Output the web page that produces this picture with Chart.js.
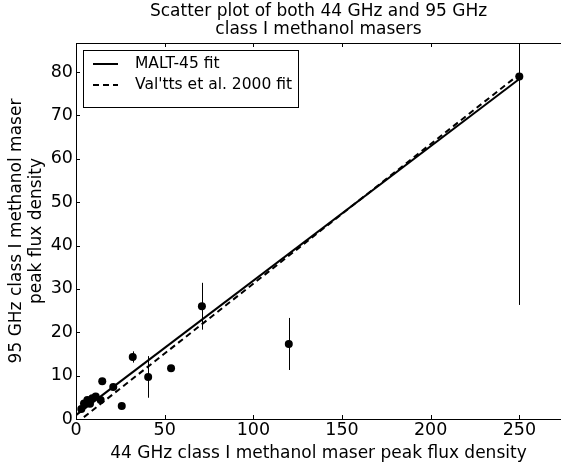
<!DOCTYPE html>
<html>
<head>
<meta charset="utf-8">
<script src="https://cdn.jsdelivr.net/npm/chart.js@4/dist/chart.umd.min.js"></script>
<style>
  html, body { margin: 0; padding: 0; background: #fff; }
  #wrap { width: 561px; height: 468px; }
</style>
</head>
<body>
<div id="wrap"><canvas id="c" width="561" height="468"></canvas></div>
<script>
// ---- data ----
const flux44 = [3.0, 4.5, 6.4, 7.9, 9.2, 11.1, 13.9, 14.8, 21.0, 25.8, 32.0, 40.7, 53.6, 71.0, 120.0, 250.0];
const flux95 = [2.3, 3.6, 4.4, 3.5, 4.8, 5.2, 4.4, 8.7, 7.4, 3.0, 14.3, 9.7, 11.7, 26.0, 17.3, 79.0];
const err95  = [0, 0, 0, 0, 0, 0, 0, 0, 0, 0, 1.3, 4.8, 0, 5.4, 6.0, 52.7];
const maltFitX = [0, 250];
const maltFitY = [0.9, 78.4];
const valttsFitX = [0, 250];
const valttsFitY = [-1.0, 79.5];
const xTicks = [0, 50, 100, 150, 200, 250];
const yTicks = [0, 10, 20, 30, 40, 50, 60, 70, 80];
const seriesLabels = ["MALT-45 fit", "Val'tts et al. 2000 fit"];

const FONT = "'DejaVu Sans', sans-serif";

const pts = flux44.map((x, i) => ({x: x, y: flux95[i]}));
const malt = maltFitX.map((x, i) => ({x: x, y: maltFitY[i]}));
const valtts = valttsFitX.map((x, i) => ({x: x, y: valttsFitY[i]}));

const framePlugin = {
  id: 'frame',
  beforeDatasetsDraw(chart) {
    const {ctx, chartArea: a, scales: {x, y}} = chart;
    ctx.save();
    ctx.beginPath();
    ctx.rect(a.left, a.top, a.right - a.left, a.bottom - a.top);
    ctx.clip();
    ctx.strokeStyle = '#000';
    ctx.lineWidth = 1;
    flux44.forEach((xv, i) => {
      if (!err95[i]) return;
      const px = Math.round(x.getPixelForValue(xv)) + 0.5;
      ctx.beginPath();
      ctx.moveTo(px, y.getPixelForValue(flux95[i] - err95[i]));
      ctx.lineTo(px, y.getPixelForValue(flux95[i] + err95[i]));
      ctx.stroke();
    });
    ctx.restore();
  },
  afterDraw(chart) {
    const {ctx, chartArea: a, scales: {x, y}} = chart;
    ctx.save();
    ctx.strokeStyle = '#000';
    ctx.lineWidth = 1;
    ctx.beginPath();
    ctx.moveTo(a.left + 0.5, a.bottom + 0.5);
    ctx.lineTo(a.left + 0.5, a.top + 0.5);
    ctx.lineTo(a.right, a.top + 0.5);
    ctx.moveTo(a.left + 0.5, a.bottom + 0.5);
    ctx.lineTo(a.right, a.bottom + 0.5);
    ctx.stroke();
    const tl = 4;
    ctx.beginPath();
    xTicks.forEach(v => {
      const px = Math.round(x.getPixelForValue(v)) + 0.5;
      ctx.moveTo(px, a.bottom); ctx.lineTo(px, a.bottom - tl);
      ctx.moveTo(px, a.top); ctx.lineTo(px, a.top + tl);
    });
    yTicks.forEach(v => {
      const py = Math.round(y.getPixelForValue(v)) + 0.5;
      ctx.moveTo(a.left, py); ctx.lineTo(a.left + tl, py);
    });
    ctx.stroke();
    // legend
    const bx = 83.5, by = 50.5, bw = 215, bh = 57;
    ctx.fillStyle = '#fff';
    ctx.fillRect(bx, by, bw, bh);
    ctx.strokeRect(bx, by, bw, bh);
    ctx.lineWidth = 2;
    ctx.beginPath();
    ctx.setLineDash([]);
    ctx.moveTo(93, 64); ctx.lineTo(118, 64);
    ctx.stroke();
    ctx.beginPath();
    ctx.setLineDash([6, 4]);
    ctx.moveTo(93, 85); ctx.lineTo(118, 85);
    ctx.stroke();
    ctx.setLineDash([]);
    ctx.fillStyle = '#000';
    ctx.font = '15.5px ' + FONT;
    ctx.textBaseline = 'middle';
    ctx.textAlign = 'left';
    ctx.fillText(chart.data.datasets[1].label, 135, 64);
    ctx.fillText(chart.data.datasets[2].label, 135, 85);
    ctx.restore();
  }
};

new Chart(document.getElementById('c'), {
  type: 'scatter',
  data: {
    datasets: [
      { label: 'data', data: pts, backgroundColor: '#000', borderColor: '#000', borderWidth: 0,
        pointRadius: 4, pointHoverRadius: 4, order: 1 },
      { label: seriesLabels[0], data: malt, type: 'line', showLine: true, borderColor: '#000',
        borderWidth: 2, pointRadius: 0, fill: false, order: 2 },
      { label: seriesLabels[1], data: valtts, type: 'line', showLine: true, borderColor: '#000',
        borderWidth: 2, borderDash: [6, 4], pointRadius: 0, fill: false, order: 3 }
    ]
  },
  options: {
    responsive: false,
    animation: false,
    devicePixelRatio: 1,
    layout: { autoPadding: false, padding: 0 },
    plugins: {
      legend: { display: false },
      tooltip: { enabled: false },
      title: {
        display: true,
        fullSize: false,
        text: ['Scatter plot of both 44 GHz and 95 GHz', 'class I methanol masers'],
        color: '#000',
        font: { family: FONT, size: 17, weight: 'normal', lineHeight: 18 / 17 },
        padding: { top: 3, bottom: 4 }
      }
    },
    scales: {
      x: {
        type: 'linear', min: 0, max: 273.5,
        border: { display: false },
        grid: { display: false, drawTicks: false },
        afterBuildTicks: s => { s.ticks = xTicks.map(v => ({value: v})); },
        afterFit: s => { s.height = 49; s.paddingLeft = 0; s.paddingRight = 0; },
        ticks: { color: '#000', padding: 3, maxRotation: 0, font: { family: FONT, size: 17.5, lineHeight: 1 } },
        title: { display: true, text: '44 GHz class I methanol maser peak flux density', color: '#000',
                 font: { family: FONT, size: 17, lineHeight: 20 / 17 }, padding: { top: 0, bottom: 4 } }
      },
      y: {
        type: 'linear', min: 0, max: 86.7,
        border: { display: false },
        grid: { display: false, drawTicks: false },
        afterBuildTicks: s => { s.ticks = yTicks.map(v => ({value: v})); },
        afterFit: s => { s.width = 76; s.paddingTop = 0; s.paddingBottom = 0; },
        ticks: { color: '#000', padding: 3, font: { family: FONT, size: 17.5, lineHeight: 1 } },
        title: { display: true, text: ['95 GHz class I methanol maser', 'peak flux density'], color: '#000',
                 font: { family: FONT, size: 17, lineHeight: 20 / 17 }, padding: { top: 7, bottom: 0 } }
      }
    }
  },
  plugins: [framePlugin]
});
</script>
</body>
</html>
